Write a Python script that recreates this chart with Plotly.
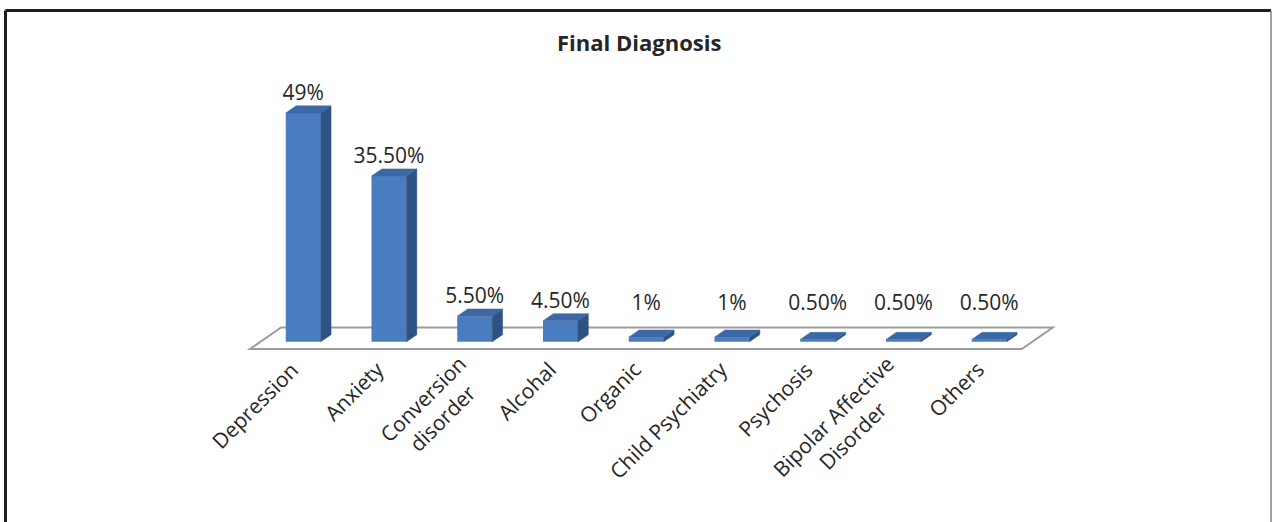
import plotly.graph_objects as go

# Final diagnosis distribution (% of patients)
categories = ["Depression", "Anxiety", "Conversion<br>disorder", "Alcohal", "Organic",
              "Child Psychiatry", "Psychosis", "Bipolar Affective<br>Disorder", "Others"]
values = [49, 35.5, 5.5, 4.5, 1, 1, 0.5, 0.5, 0.5]

FRONT = "#4A7DC0"
SIDE = "#2E5283"
TOP = "#3C68A6"
FLOOR_LINE = "#9c9c9c"
TEXT = "#262626"

# oblique projection of the depth axis (full floor depth, in data units)
DX, DY = 0.3615, 4.60
BAR_W = 0.408
T0, T1 = 1 / 3, 2 / 3          # bars occupy the middle third of the floor depth


def fmt(v):
    return f"{int(v)}%" if float(v).is_integer() else f"{v:.2f}%"


n = len(values)
fig = go.Figure()

# floor plate, drawn beneath every trace
fx = [-0.5, n - 0.5, n - 0.5 + DX, -0.5 + DX]
fy = [0, 0, DY, DY]
floor_path = "M " + " L ".join(f"{x},{y}" for x, y in zip(fx, fy)) + " Z"
fig.add_shape(type="path", path=floor_path, xref="x", yref="y", layer="below",
              fillcolor="white", line=dict(color=FLOOR_LINE, width=2))

base = T0 * DY
dx, dy = (T1 - T0) * DX, (T1 - T0) * DY
centers = [i + T0 * DX for i in range(n)]

# front faces
fig.add_trace(go.Bar(x=centers, y=values, base=[base] * n, width=BAR_W,
                     marker=dict(color=FRONT, line=dict(width=0)), hoverinfo="skip"))

# side and top faces
sx, sy, tx, ty = [], [], [], []
for c, v in zip(centers, values):
    xl, xr = c - BAR_W / 2, c + BAR_W / 2
    top = base + v
    sx += [xr, xr + dx, xr + dx, xr, xr, None]
    sy += [base, base + dy, top + dy, top, base, None]
    tx += [xl, xr, xr + dx, xl + dx, xl, None]
    ty += [top, top, top + dy, top + dy, top, None]
fig.add_trace(go.Scatter(x=sx, y=sy, mode="lines", fill="toself", fillcolor=SIDE,
                         line=dict(color=SIDE, width=0.5), hoverinfo="skip"))
fig.add_trace(go.Scatter(x=tx, y=ty, mode="lines", fill="toself", fillcolor=TOP,
                         line=dict(color=TOP, width=0.5), hoverinfo="skip"))

# value labels
fig.add_trace(go.Scatter(x=centers, y=[max(v + 5.4, 9.4) for v in values],
                         mode="text", text=[fmt(v) for v in values],
                         textposition="middle center",
                         textfont=dict(family="Open Sans", size=21, color=TEXT),
                         hoverinfo="skip"))

# rotated category labels; the first line's end sits at the category position
for i, cat in enumerate(categories):
    extra = cat.count("<br>")
    fig.add_annotation(x=i + 0.07, y=-1.9, text=cat, showarrow=False, textangle=-45,
                       xanchor="right", yanchor="top", align="center",
                       xshift=8 + 15 * extra, yshift=5 + 6 * extra,
                       font=dict(family="Open Sans", size=21, color=TEXT))

fig.add_annotation(x=639 / 1272, y=1 - 42 / 522, xref="paper", yref="paper",
                   text="<b>Final Diagnosis</b>", showarrow=False,
                   xanchor="center", yanchor="middle",
                   font=dict(family="Open Sans", size=22, color=TEXT))

# chart frame
fy_top = 1 - 10.5 / 522
fig.add_shape(type="line", xref="paper", yref="paper", x0=5.5 / 1272, x1=1271 / 1272,
              y0=fy_top, y1=fy_top, line=dict(color="#1e1e1e", width=3))
fig.add_shape(type="line", xref="paper", yref="paper", x0=5.5 / 1272, x1=5.5 / 1272,
              y0=fy_top, y1=-0.05, line=dict(color="#1e1e1e", width=3))
fig.add_shape(type="line", xref="paper", yref="paper", x0=1271 / 1272, x1=1271 / 1272,
              y0=fy_top, y1=-0.05, line=dict(color="#808080", width=1.5))

fig.update_layout(
    width=1272, height=522, margin=dict(l=0, r=0, t=0, b=0, pad=0),
    paper_bgcolor="white", plot_bgcolor="white", showlegend=False, hovermode=False,
    xaxis=dict(range=[-292.9 / 85.75, (1272 - 292.9) / 85.75], visible=False, fixedrange=True),
    yaxis=dict(range=[(349 - 522) / 4.67, 349 / 4.67], visible=False, fixedrange=True),
)

fig.write_html("out.html")
